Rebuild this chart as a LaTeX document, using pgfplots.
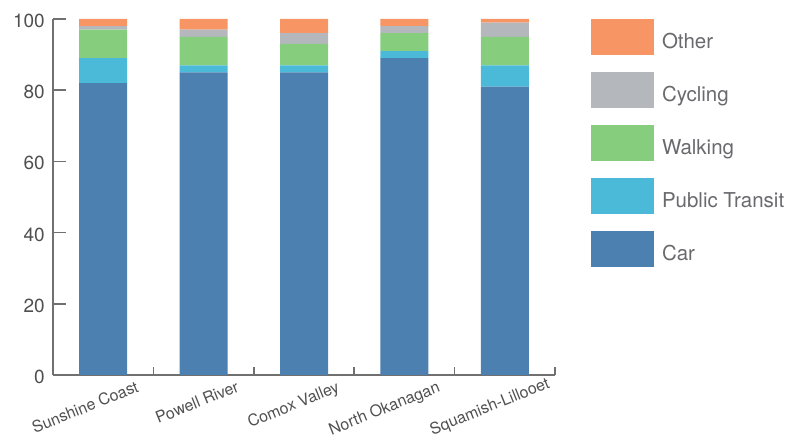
\documentclass[border=0pt]{standalone}
\usepackage{fontspec}
\setmainfont{TeX Gyre Heros}
\usepackage{pgfplots}
\pgfplotsset{compat=1.18}
\definecolor{car}{HTML}{4B80B0}
\definecolor{transit}{HTML}{4ABAD8}
\definecolor{walking}{HTML}{86CE7E}
\definecolor{cycling}{HTML}{B4B8BC}
\definecolor{other}{HTML}{F79564}
\definecolor{axisgray}{HTML}{707070}
\definecolor{labelgray}{HTML}{505050}
\definecolor{legendgray}{HTML}{6A6A6E}
\begin{document}
\begin{tikzpicture}[x=1pt,y=1pt]
\begin{axis}[
  at={(53pt,64pt)}, anchor=south west,
  scale only axis, width=502pt, height=356pt,
  xmin=-0.5, xmax=4.5, ymin=0, ymax=100,
  ybar stacked, bar width=48pt,
  axis lines=left,
  axis line style={-, draw=axisgray, line width=1.5pt},
  tick align=inside,
  tick style={draw=axisgray, line width=1.5pt},
  xtick={-0.5,0.5,1.5,2.5,3.5,4.5},
  x tick label as interval,
  xticklabels={Sunshine Coast, Powell River, Comox Valley, North Okanagan, Squamish-Lillooet\kern-10pt},
  xtick style={/pgfplots/major tick length=8pt},
  ytick style={/pgfplots/major tick length=13pt},
  ytick={0,20,40,60,80,100},
  /pgf/number format/assume math mode=true,
  yticklabel style={font=\fontsize{19}{22}\selectfont, text=labelgray, inner sep=0pt, xshift=-8pt, yshift=-2pt},
  xticklabel style={font=\fontsize{16}{19}\selectfont, text=labelgray, inner sep=0pt, xshift=32pt, yshift=-5pt, rotate=22, anchor=north east},
  legend style={at={(axis description cs:1.0717,1)}, anchor=north west, draw=none, fill=none,
    inner sep=0pt, outer sep=0pt, row sep=17pt, column sep=8pt,
    font=\fontsize{20.5}{24}\selectfont, text=legendgray,
    nodes={inner sep=0pt}},
  legend cell align=left,
  reverse legend,
  legend image code/.code={\fill[#1] (0pt,-13.5pt) rectangle (63pt,22.5pt);},
]
\addplot[fill=car, draw=none] coordinates {(0,82) (1,85) (2,85) (3,89) (4,81)};
\addplot[fill=transit, draw=none] coordinates {(0,7) (1,2) (2,2) (3,2) (4,6)};
\addplot[fill=walking, draw=none] coordinates {(0,8) (1,8) (2,6) (3,5) (4,8)};
\addplot[fill=cycling, draw=none] coordinates {(0,1) (1,2) (2,3) (3,2) (4,4)};
\addplot[fill=other, draw=none] coordinates {(0,2) (1,3) (2,4) (3,2) (4,1)};
\legend{Car, Public Transit, Walking, Cycling, Other}
\end{axis}
\pgfresetboundingbox
\path (0,0) rectangle (787,439);
\end{tikzpicture}
\end{document}
